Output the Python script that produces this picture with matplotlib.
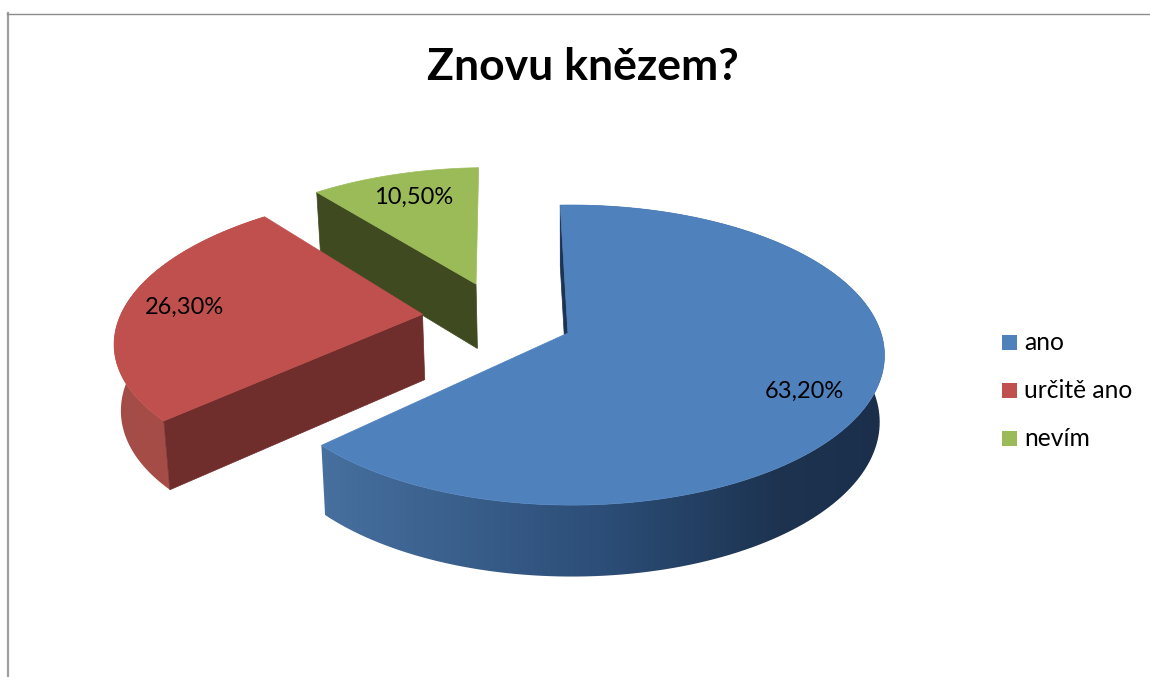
import numpy as np
import matplotlib
matplotlib.use('Agg')
import matplotlib.pyplot as plt
from matplotlib.patches import Polygon, Rectangle
from matplotlib.colors import to_rgb

title = 'Znovu knězem?'
categories = ['ano', 'určitě ano', 'nevím']
values = [63.2, 26.3, 10.5]
top_colors = ['#4f81bd', '#c0504d', '#9bbb59']
cut_colors = ['#1c3353', '#6f2d2b', '#3f4a20']

# offset of each slice in the plane of the pie (1 = radius)
explode = [(0.003, 0), (-0.468, -0.13), (-0.304, -0.35)]
rim_dx = [0.010, 0.023, 0.005]
rim_sx = [0.985, 1, 0.9755]
# small corrections of the corner angles, the original's perspective is not quite this one
angle_adjust = [(0, 1.2), (1.8, 0), (0, 0)]
label_pos = [(804, 391), (184, 307), (414, 197)]

# pie layout, in pixels
cx, cy = 567, 333
a, b, k = 314.6, 146.8, 0.147
depth = 66
shrink = 0.985
start = -2.2


def project(u, v, low=False):
    w = 1 - k*v
    x = a*u/w
    y = b*v/w
    if low:
        return cx + x*shrink, cy + y + depth/np.sqrt(w)
    return cx + x, cy + y


def rim(i, t):
    # t clockwise from the top, degrees
    r = np.radians(t)
    return explode[i][0] + rim_dx[i] + rim_sx[i]*np.sin(r), explode[i][1] - np.cos(r)


wall_stops = [
    [(320, '#47709f'), (600, '#2c4e78'), (780, '#1d3350'), (890, '#1b2f4b')],
    [(110, '#a34c47'), (180, '#a84c47')],
    None,
]

fig = plt.figure(figsize=(11.5, 6.77), dpi=100)
ax = fig.add_axes([0, 0, 1, 1])
ax.axis('off')

ax.plot([7.5, 7.5], [13, 677], color='#a0a0a0', lw=1.6)
ax.plot([7, 1150], [13.5, 13.5], color='#8c8c8c', lw=1)

spans = []
t0 = start
for i, v in enumerate(values):
    t1 = t0 + v*3.6
    spans.append((t0 + angle_adjust[i][0], t1 + angle_adjust[i][1]))
    t0 = t1

z = 3
for i in [2, 1, 0]:
    off = explode[i]
    ts = np.linspace(spans[i][0], spans[i][1], 160)
    pts = [rim(i, t) for t in ts]
    upper = [project(*p) for p in pts]
    lower = [project(*p, low=True) for p in pts]

    # outer wall, colour runs along x
    if wall_stops[i] is not None:
        outline = np.array(upper + lower[::-1])
        x0, x1 = outline[:, 0].min(), outline[:, 0].max()
        y0, y1 = outline[:, 1].min(), outline[:, 1].max()
        xs = np.linspace(x0, x1, 400)
        stop_x = [s[0] for s in wall_stops[i]]
        stop_c = np.array([to_rgb(s[1]) for s in wall_stops[i]])
        grad = np.stack([np.interp(xs, stop_x, stop_c[:, c]) for c in range(3)], axis=1)[None, :, :]
        im = ax.imshow(grad, extent=(x0, x1, y1, y0), aspect='auto', zorder=z)
        clip = Polygon(outline, transform=ax.transData, fc='none', ec='none')
        ax.add_patch(clip)
        im.set_clip_path(clip)

    # cut wall, the one that faces the viewer
    wall = [project(*off), project(*pts[0]), project(*pts[0], low=True), project(*off, low=True)]
    ax.add_patch(Polygon(wall, fc=cut_colors[i], ec=cut_colors[i], lw=0.5, zorder=z + 1))

    # top face
    top = [project(*off)] + upper
    ax.add_patch(Polygon(top, fc=top_colors[i], ec=top_colors[i], lw=0.5, zorder=z + 2))
    z += 3

ax.set_xlim(0, 1150)
ax.set_ylim(677, 0)

for v, pos in zip(values, label_pos):
    s = f'{v:.2f}'.replace('.', ',') + '%'
    ax.text(pos[0], pos[1], s, ha='center', va='center', fontsize=17, family='Lato', color='black', zorder=30)

ax.text(583, 67, title, ha='center', va='center', fontsize=32, fontweight='bold', family='Lato', color='black')

for i, c in enumerate(categories):
    y = 342 + i*48
    ax.add_patch(Rectangle((1002, y - 7.5), 15, 15, fc=top_colors[i], ec='none'))
    ax.text(1024, y, c, ha='left', va='center', fontsize=17.7, family='Lato', color='black')

fig.savefig('out.png', dpi=100)
